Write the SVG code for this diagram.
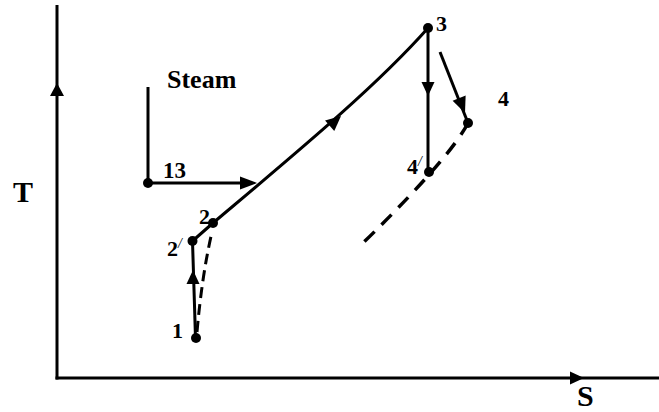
<svg xmlns="http://www.w3.org/2000/svg" width="659" height="412" viewBox="0 0 659 412">
<style>
.ln{fill:none;stroke:#000;stroke-width:3}
.ds{fill:none;stroke:#000;stroke-width:3.5;stroke-dasharray:14 10}
.ds2{fill:none;stroke:#000;stroke-width:3;stroke-dasharray:11 6}
.ah{fill:#000}
.dot{fill:#000}
.lb{font-family:"Liberation Serif","Times New Roman",serif;font-weight:bold;fill:#000}
</style>
<rect width="659" height="412" fill="#fff"/>
<g id="axes">
<line class="ln" x1="57" y1="5" x2="57" y2="379.5"/>
<line class="ln" x1="55.5" y1="378" x2="659" y2="378"/>
<polygon class="ah" points="57,83 50,96 64,96"/>
<polygon class="ah" points="584,378 570,371.5 570,384.5"/>
<text class="lb" x="13" y="202" font-size="30">T</text>
<text class="lb" x="577" y="406" font-size="30">S</text>
</g>
<g id="connectors">
<polyline class="ln" points="148,87 148,183 245,183"/>
<polygon class="ah" points="257,183 240,176.5 240,189.5"/>
<line class="ln" x1="195.5" y1="338" x2="192.5" y2="241"/>
<polygon class="ah" points="193,270 186.5,284 199.5,284"/>
<path class="ds2" d="M197,332 Q202,275 212,232"/>
<path class="ln" d="M192.5,241 L213,223 C290,158 375,88 428,28"/>
<polygon class="ah" points="0,0 -15,-7 -15,7" transform="translate(341,116) rotate(-41)"/>
<line class="ln" x1="428" y1="28" x2="428" y2="172"/>
<polygon class="ah" points="428,96 421.5,82 434.5,82"/>
<line class="ln" x1="440" y1="52" x2="468" y2="123"/>
<polygon class="ah" points="0,0 -16,-7 -16,7" transform="translate(465,113) rotate(68.5)"/>
<path class="ds" d="M468,123 Q450,158 363,243"/>
</g>
<g id="node-13"><circle class="dot" cx="148" cy="183" r="5"/><text class="lb" x="163" y="178" font-size="23">13</text></g>
<g id="node-steam"><text class="lb" x="167" y="88" font-size="26">Steam</text></g>
<g id="node-1"><circle class="dot" cx="196" cy="338" r="5"/><text class="lb" x="172" y="338" font-size="22">1</text></g>
<g id="node-2p"><circle class="dot" cx="192.5" cy="241" r="5"/><text class="lb" x="167" y="256" font-size="22">2<tspan font-size="14" dy="-8" font-weight="normal" font-style="italic">/</tspan></text></g>
<g id="node-2"><circle class="dot" cx="213" cy="223" r="5"/><text class="lb" x="199" y="224" font-size="22">2</text></g>
<g id="node-3"><circle class="dot" cx="428" cy="28" r="5"/><text class="lb" x="436" y="31" font-size="22">3</text></g>
<g id="node-4"><circle class="dot" cx="468" cy="123" r="5"/><text class="lb" x="498" y="106" font-size="22">4</text></g>
<g id="node-4p"><circle class="dot" cx="429" cy="172" r="5"/><text class="lb" x="407" y="174" font-size="22">4<tspan font-size="14" dy="-8" font-weight="normal" font-style="italic">/</tspan></text></g>
</svg>
